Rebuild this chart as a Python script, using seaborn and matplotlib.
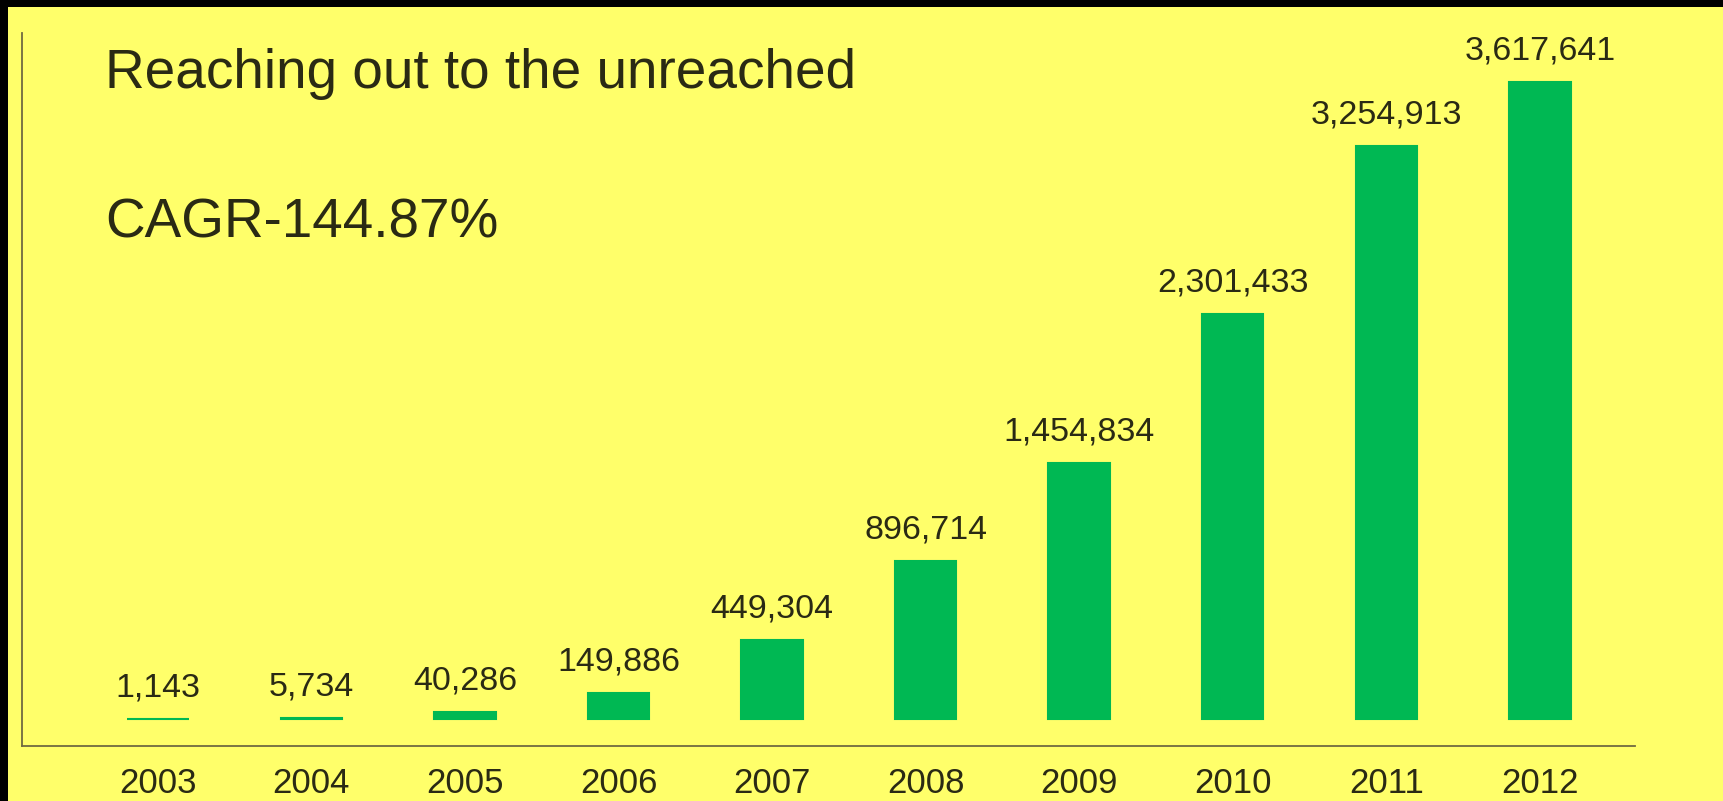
import matplotlib
matplotlib.use("Agg")
import matplotlib.pyplot as plt
import seaborn as sns
import pandas as pd
from matplotlib.patches import Rectangle

years = ["2003", "2004", "2005", "2006", "2007", "2008", "2009", "2010", "2011", "2012"]
values = [1143, 5734, 40286, 149886, 449304, 896714, 1454834, 2301433, 3254913, 3617641]
title = "Reaching out to the unreached"
subtitle = "CAGR-144.87%"

YELLOW = "#FFFF6A"
GREEN = "#00B853"
TEXT = "#2a2a14"
SPINE = "#6f6a40"

sns.set_theme(style="white")
plt.rcParams["font.family"] = ["Liberation Sans", "DejaVu Sans"]

W, H, DPI = 1723, 801, 100
fig = plt.figure(figsize=(W / DPI, H / DPI), dpi=DPI, facecolor="black")
bg = Rectangle((8 / W, 0), 1 - 8 / W, 1 - 7 / H, transform=fig.transFigure,
               facecolor=YELLOW, edgecolor="none", zorder=-10)
fig.patches.append(bg)

ax = fig.add_axes([22 / W, 55 / H, (1635 - 22) / W, (746 - 33) / H])
ax.set_zorder(5)
ax.set_facecolor("none")

df = pd.DataFrame({"year": years, "value": values})
sns.barplot(data=df, x="year", y="value", color=GREEN, width=0.4, saturation=1,
            edgecolor=GREEN, linewidth=1.5, ax=ax)

ax.set_xlim(-0.885, 9.62)
ax.set_ylim(-153340, 3895940)

for cont in ax.containers:
    ax.bar_label(cont, labels=[f"{v:,}" for v in values], padding=11,
                 fontsize=24.5, color=TEXT)

ax.set_xlabel("")
ax.set_ylabel("")
ax.set_yticks([])
ax.tick_params(axis="x", length=0, pad=15, labelsize=25, labelcolor=TEXT)
for s in ["top", "right"]:
    ax.spines[s].set_visible(False)
for s in ["left", "bottom"]:
    ax.spines[s].set_visible(True)
    ax.spines[s].set_color(SPINE)
    ax.spines[s].set_linewidth(1.3)

fig.text(105 / W, 1 - 88 / H, title, fontsize=39.5, color=TEXT, va="baseline", ha="left", zorder=6)
fig.text(105 / W, 1 - 238 / H, subtitle, fontsize=39.5, color=TEXT, va="baseline", ha="left", zorder=6)

fig.savefig("out.png", dpi=DPI, facecolor=fig.get_facecolor())
